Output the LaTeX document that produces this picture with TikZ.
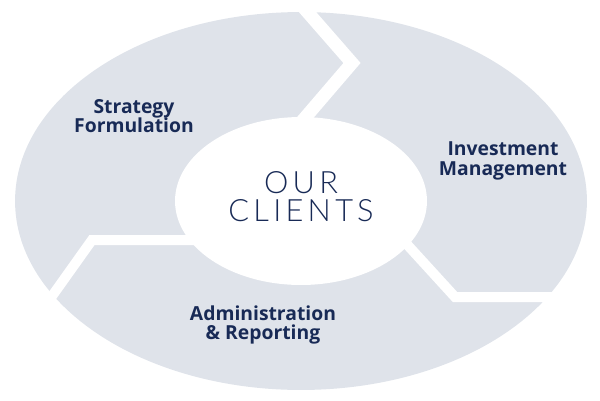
\documentclass[tikz,border=0pt]{standalone}
\usepackage{fontspec}
\setmainfont{Open Sans}
\newfontfamily\hubfont{Lato Light}[LetterSpace=14]
\usetikzlibrary{positioning}
\definecolor{ringfill}{RGB}{223,227,234}
\definecolor{clientnavy}{RGB}{24,42,86}

\begin{document}
\begin{tikzpicture}[
  x=0.02cm, y=-0.02cm,
  gap/.style={draw=white, line width=0.2cm, line join=miter},
  stage/.style={
    font=\fontsize{11}{11}\selectfont\bfseries,
    text=clientnavy,
    align=center,
    inner sep=0pt
  },
  hub/.style={
    font=\hubfont\fontsize{17.5}{16}\selectfont,
    text=clientnavy,
    align=center,
    inner sep=0pt
  }
]
\useasboundingbox (0,0) rectangle (600,400);

% outer ring
\coordinate (mid) at (301,201);
\fill[ringfill] (mid) ellipse [x radius=5.72cm, y radius=3.78cm];

% white chevron gaps between the three stages
\draw[gap, line width=0.26cm] (297,0) -- (352,63) -- (298,126);
\draw[gap] (392,228) -- (455,297) -- (600,297);
\draw[gap] (210,240) -- (92,240) -- (35,320);

% clients in the middle
\fill[white] (mid) ellipse [x radius=2.52cm, y radius=1.68cm];
\node[hub] (clients) at (301,197) {OUR\\CLIENTS};

\node[stage] (strategy) at (134,116) {Strategy\\Formulation};
\node[stage] (invest) at (503,161) {Investment\\Management};
\node[stage] (admin) at (263,325) {Administration\\\& Reporting};
\end{tikzpicture}
\end{document}
